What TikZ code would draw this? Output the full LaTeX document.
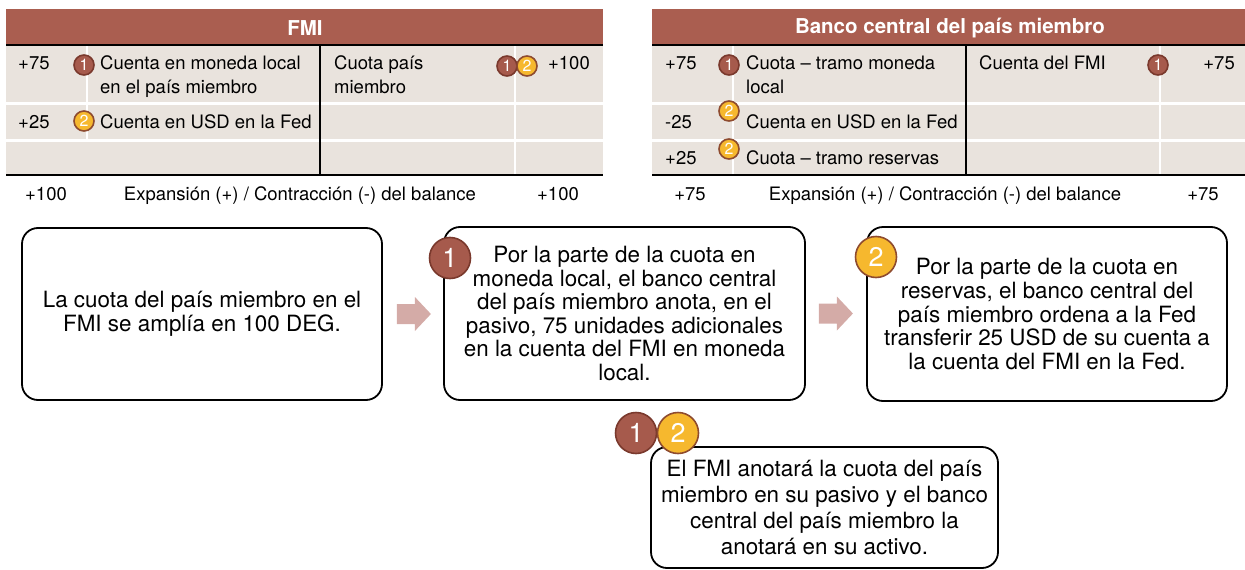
\documentclass[tikz,border=0pt]{standalone}
\usepackage{fontspec}
\setmainfont{TeX Gyre Heros}
\usetikzlibrary{calc}
\definecolor{hdr}{HTML}{AA5E50}
\definecolor{rowbg}{HTML}{E9E3DD}
\definecolor{cone}{HTML}{A65A4C}
\definecolor{conebd}{HTML}{7A392D}
\definecolor{ctwo}{HTML}{F6B82E}
\definecolor{ctwobd}{HTML}{8E4B2F}
\definecolor{arr}{HTML}{D4ABA7}
\begin{document}
\begin{tikzpicture}[x=1pt,y=-1pt,
  tabtxt/.style={font=\fontsize{18.5}{24}\selectfont, inner sep=0pt, anchor=base west, align=left},
  tabnum/.style={font=\fontsize{18.5}{24}\selectfont, inner sep=0pt, anchor=base},
  hdrtxt/.style={font=\fontsize{20.5}{22}\selectfont\bfseries, text=white, inner sep=0pt},
  sone/.style={circle, fill=cone, draw=conebd, line width=1.6pt, minimum size=20pt, inner sep=0pt, text=white, font=\fontsize{16}{16}\selectfont},
  stwo/.style={circle, fill=ctwo, draw=ctwobd, line width=1.6pt, minimum size=20pt, inner sep=0pt, text=white, font=\fontsize{16}{16}\selectfont},
  bone/.style={sone, minimum size=41pt, line width=1.6pt, font=\fontsize{27}{27}\selectfont},
  btwo/.style={stwo, minimum size=41pt, line width=1.6pt, font=\fontsize{27}{27}\selectfont},
  stepbox/.style={draw=black, line width=1.8pt, rounded corners=16pt, align=center, inner sep=0pt, font=\fontsize{22.4}{23.6}\selectfont},
  sepw/.style={white, line width=2.2pt},
  sepk/.style={black, line width=2pt}
]
\useasboundingbox (0,0) rectangle (1245,570);

% ---------- FMI table ----------
\fill[hdr] (6,9) rectangle (603,45);
\fill[rowbg] (6,46) rectangle (603,102);
\fill[rowbg] (6,105) rectangle (603,139);
\fill[rowbg] (6,142) rectangle (603,174);
\draw[sepw] (87,46) -- (87,139);
\draw[sepw] (515,46) -- (515,174);
\draw[sepk] (6,45) -- (603,45);
\draw[sepk] (6,175) -- (603,175);
\draw[sepk] (320,45) -- (320,175);
\node[hdrtxt] (fmih) at (305,28) {FMI};

\node[tabtxt] (f1a) at (18,69) {+75};
\node[sone] (f1c) at (84,65) {1};
\node[tabtxt] (f1t) at (100,93) {Cuenta en moneda local\\en el país miembro};
\node[tabtxt] (f1r) at (334,93) {Cuota país\\miembro};
\node[sone] (f1d) at (507,66) {1};
\node[stwo] (f1e) at (527,66) {2};
\node[tabtxt, anchor=base east] (f1v) at (590,69) {+100};
\node[tabtxt] (f2a) at (18,128) {+25};
\node[stwo] (f2c) at (84,121) {2};
\node[tabtxt] (f2t) at (100,128) {Cuenta en USD en la Fed};
\node[tabnum] (fb1) at (46,200) {+100};
\node[tabnum] (fb2) at (300,200) {Expansión (+) / Contracción (-) del balance};
\node[tabnum] (fb3) at (558,200) {+100};

% ---------- Bank table ----------
\fill[hdr] (652,9) rectangle (1245,45);
\fill[rowbg] (652,46) rectangle (1245,102);
\fill[rowbg] (652,105) rectangle (1245,139);
\fill[rowbg] (652,142) rectangle (1245,174);
\draw[sepw] (733,46) -- (733,174);
\draw[sepw] (1160,46) -- (1160,174);
\draw[sepk] (652,45) -- (1245,45);
\draw[sepk] (652,175) -- (1245,175);
\draw[sepk] (966,45) -- (966,175);
\node[hdrtxt] (bch) at (950,28) {Banco central del país miembro};

\node[tabtxt] (b1a) at (665,69) {+75};
\node[sone] (b1c) at (729,65) {1};
\node[tabtxt] (b1t) at (746,93) {Cuota – tramo moneda\\local};
\node[tabtxt] (b1r) at (979,69) {Cuenta del FMI};
\node[sone] (b1d) at (1158,65) {1};
\node[tabtxt, anchor=base east] (b1v) at (1235,69) {+75};
\node[tabtxt] (b2a) at (665,128) {-25};
\node[stwo] (b2c) at (729,111) {2};
\node[tabtxt] (b2t) at (746,128) {Cuenta en USD en la Fed};
\node[tabtxt] (b3a) at (665,164) {+25};
\node[stwo] (b3c) at (729,149) {2};
\node[tabtxt] (b3t) at (746,164) {Cuota – tramo reservas};
\node[tabnum] (bb1) at (690,200) {+75};
\node[tabnum] (bb2) at (945,200) {Expansión (+) / Contracción (-) del balance};
\node[tabnum] (bb3) at (1203,200) {+75};

% ---------- Boxes ----------
\node[stepbox, minimum width=360pt, minimum height=172pt] (boxA) at (202,314)
  {La cuota del país miembro en el\\FMI se amplía en 100 DEG.};
\node[stepbox, minimum width=361pt, minimum height=173pt] (boxB) at (624.5,313.5)
  {Por la parte de la cuota en\\moneda local, el banco central\\del país miembro anota, en el\\pasivo, 75 unidades adicionales\\en la cuenta del FMI en moneda\\local.};
\node[stepbox, minimum width=360pt, minimum height=174pt] (boxC) at (1047,314)
  {Por la parte de la cuota en\\reservas, el banco central del\\país miembro ordena a la Fed\\transferir 25 USD de su cuenta a\\la cuenta del FMI en la Fed.};
\node[stepbox, minimum width=347pt, minimum height=121pt, font=\fontsize{22.4}{26.2}\selectfont] (boxD) at (824.5,507.5)
  {El FMI anotará la cuota del país\\miembro en su pasivo y el banco\\central del país miembro la\\anotará en su activo.};

\node[bone] (nB) at (450,258) {1};
\node[btwo] (nC) at (876,257) {2};
\node[bone] (nD1) at (636,433) {1};
\node[btwo] (nD2) at (678,433) {2};

% ---------- Block arrows ----------
\fill[arr] ($(boxA.east)+(14,-10)$) -- ++(18,0) -- ++(0,-7) -- ++(16,17) -- ++(-16,17) -- ++(0,-7) -- ++(-18,0) -- cycle;
\fill[arr] ($(boxB.east)+(13,-10)$) -- ++(18,0) -- ++(0,-7) -- ++(16,17) -- ++(-16,17) -- ++(0,-7) -- ++(-18,0) -- cycle;
\end{tikzpicture}
\end{document}
